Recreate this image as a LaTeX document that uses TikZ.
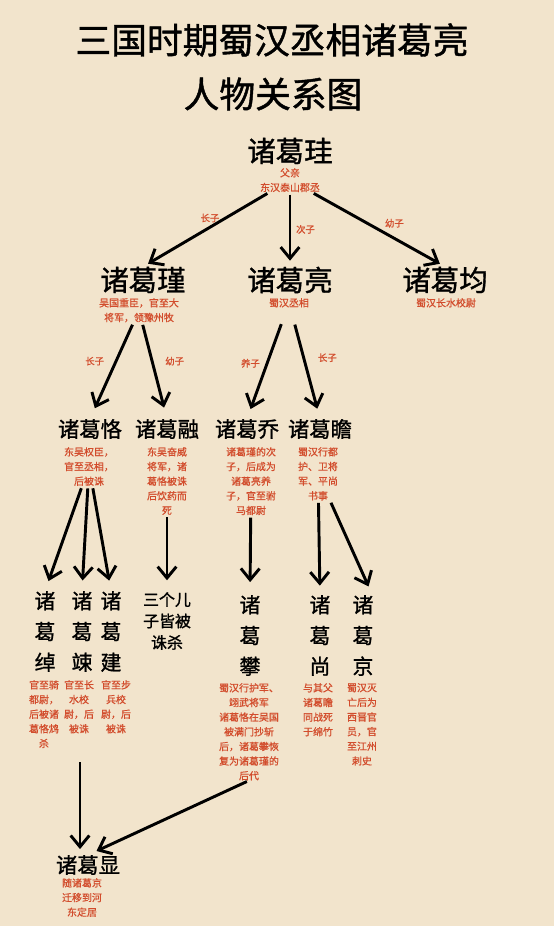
\documentclass[tikz,border=0pt]{standalone}
\usepackage{fontspec}
\setmainfont{Noto Sans CJK SC}
\newfontfamily\namefont{Noto Sans CJK SC}[FakeBold=1.2]
\newfontfamily\notefont{Noto Sans CJK SC}[FakeBold=0.8]
\usetikzlibrary{arrows.meta}
\pgfdeclarelayer{backlayer}
\pgfdeclarelayer{edgelayer}
\pgfdeclarelayer{nodelayer}
\pgfsetlayers{backlayer,edgelayer,nodelayer,main}
\definecolor{paper}{RGB}{242,228,204}
\definecolor{note}{RGB}{210,76,44}
\tikzstyle{none}=[inner sep=0pt]
\tikzstyle{title}=[inner sep=0pt,font=\namefont\fontsize{30.5}{45}\selectfont]
\tikzstyle{person}=[inner sep=0pt,font=\namefont\fontsize{24.3}{28}\selectfont]
\tikzstyle{child}=[inner sep=0pt,font=\namefont\fontsize{18.2}{22}\selectfont]
\tikzstyle{column}=[inner sep=0pt,anchor=north,align=center,font=\namefont\fontsize{17.8}{26.2}\selectfont]
\tikzstyle{remark}=[inner sep=0pt,anchor=north,align=center,text=note,font=\notefont\fontsize{8.5}{12.5}\selectfont]
\tikzstyle{relation}=[inner sep=1pt,text=note,font=\notefont\fontsize{8}{9}\selectfont]
\tikzstyle{descent}=[-{Straight Barb[length=3.4mm,width=5.6mm]},draw=black,line width=2.5pt,shorten <=2pt]

\begin{document}
\begin{tikzpicture}[x=0.03cm,y=-0.03cm]
	\begin{pgfonlayer}{backlayer}
		\fill [paper] (0,0) rectangle (554,926);
	\end{pgfonlayer}
	\useasboundingbox (0,0) rectangle (554,926);
	\begin{pgfonlayer}{nodelayer}
		\node [style=title] (0) at (272, 40) {三国时期蜀汉丞相诸葛亮};
		\node [style=title] (1) at (273, 94) {人物关系图};
		\node [style=person] (2) at (290, 151) {诸葛珪};
		\node [style=remark] (3) at (290, 168) {父亲\\东汉泰山郡丞};
		\node [style=person] (4) at (143, 280) {诸葛瑾};
		\node [style=remark] (5) at (139, 298) {吴国重臣，官至大\\将军，领豫州牧};
		\node [style=person] (6) at (290, 280) {诸葛亮};
		\node [style=remark] (7) at (289, 298) {蜀汉丞相};
		\node [style=person] (8) at (445, 280) {诸葛均};
		\node [style=remark] (9) at (446, 298) {蜀汉长水校尉};
		\node [style=child] (10) at (90, 429) {诸葛恪};
		\node [style=remark] (11) at (89, 447) {东吴权臣，\\官至丞相，\\后被诛};
		\node [style=child] (12) at (167, 429) {诸葛融};
		\node [style=remark] (13) at (167, 447) {东吴奋威\\将军，诸\\葛恪被诛\\后饮药而\\死};
		\node [style=child] (14) at (247, 429) {诸葛乔};
		\node [style=remark] (15) at (251, 447) {诸葛瑾的次\\子，后成为\\诸葛亮养\\子，官至驸\\马都尉};
		\node [style=child] (16) at (320, 429) {诸葛瞻};
		\node [style=remark] (17) at (318, 447) {蜀汉行都\\护、卫将\\军、平尚\\书事};
		\node [style=column] (18) at (45, 591) {诸\\葛\\绰};
		\node [style=remark] (19) at (44, 680) {官至骑\\都尉，\\后被诸\\葛恪鸩\\杀};
		\node [style=column] (20) at (82, 591) {诸\\葛\\竦};
		\node [style=remark] (21) at (79, 680) {官至长\\水校\\尉，后\\被诛};
		\node [style=column] (22) at (111, 591) {诸\\葛\\建};
		\node [style=remark] (23) at (116, 680) {官至步\\兵校\\尉，后\\被诛};
		\node [style=none, anchor=north, align=center, font=\namefont\fontsize{13.6}{18.3}\selectfont] (24) at (167, 592) {三个儿\\子皆被\\诛杀};
		\node [style=column] (25) at (250, 595) {诸\\葛\\攀};
		\node [style=remark] (26) at (249, 683) {蜀汉行护军、\\翊武将军\\诸葛恪在吴国\\被满门抄斩\\后，诸葛攀恢\\复为诸葛瑾的\\后代};
		\node [style=column] (27) at (320, 595) {诸\\葛\\尚};
		\node [style=remark] (28) at (318, 683) {与其父\\诸葛瞻\\同战死\\于绵竹};
		\node [style=column] (29) at (363, 595) {诸\\葛\\京};
		\node [style=remark] (30) at (362, 683) {蜀汉灭\\亡后为\\西晋官\\员，官\\至江州\\刺史};
		\node [style=child] (31) at (88, 865) {诸葛显};
		\node [style=remark] (32) at (82, 878) {随诸葛京\\迁移到河\\东定居};
		\coordinate (33) at (80, 760);
	\end{pgfonlayer}
	\begin{pgfonlayer}{edgelayer}
		\draw [style=descent, shorten >=5pt] (3) to node[style=relation, pos=0.47, above=2pt]{长子} (4.north);
		\draw [style=descent, shorten >=5pt] (3) to node[style=relation, pos=0.5, right=3pt]{次子} (6.north);
		\draw [style=descent, shorten >=5pt] (3) to node[style=relation, pos=0.62, above=7pt]{幼子} (8.north);
		\draw [style=descent, shorten >=10pt] (5) to node[style=relation, pos=0.4, left=8pt]{长子} (10.north);
		\draw [style=descent, shorten >=10pt] (5) to node[style=relation, pos=0.4, right=9pt]{幼子} (12.north);
		\draw [style=descent, shorten <=15pt, shorten >=9pt] (7) to node[style=relation, pos=0.5, left=4pt]{养子} (14.north);
		\draw [style=descent, shorten <=15pt, shorten >=9pt] (7) to node[style=relation, pos=0.45, right=10pt]{长子} (16.north);
		\draw [style=descent, shorten >=9pt] (11) to (18.north);
		\draw [style=descent, shorten >=9pt] (11) to (20.north);
		\draw [style=descent, shorten >=9pt] (11) to (22.north);
		\draw [style=descent, shorten >=10pt] (13) to (24.north);
		\draw [style=descent, shorten >=11pt] (15) to (25.north);
		\draw [style=descent, shorten >=8pt] (17) to (27.north);
		\draw [style=descent, shorten >=8pt] (17) to ([xshift=8pt]29.north);
		\draw [style=descent, shorten >=5pt] (33) to (33 |- 31.north);
		\draw [style=descent, shorten >=8pt] (26.south) to (31.north);
	\end{pgfonlayer}
\end{tikzpicture}
\end{document}
